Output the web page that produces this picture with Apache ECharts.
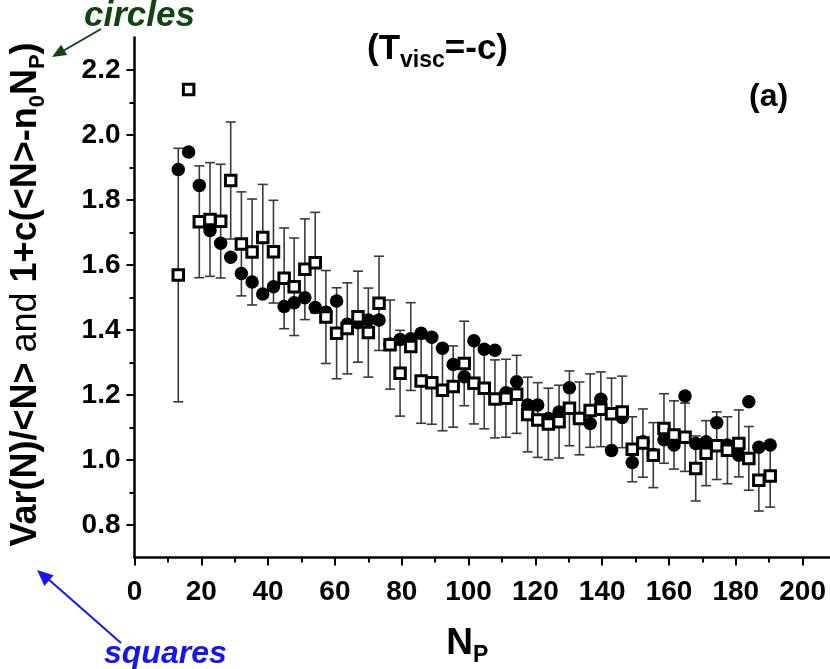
<!DOCTYPE html>
<html>
<head>
<meta charset="utf-8">
<script src="https://cdn.jsdelivr.net/npm/echarts@6/dist/echarts.min.js"></script>
<style>
html,body{margin:0;padding:0;background:#fff;}
#chart{width:830px;height:669px;}
</style>
</head>
<body>
<div id="chart"></div>
<script>
// N_P positions (shared by both data sets)
var np = [13.1, 16.2, 19.4, 22.6, 25.8, 28.8, 32.0, 35.2, 38.4, 41.6,
          44.8, 47.8, 51.0, 54.1, 57.3, 60.5, 63.7, 66.9, 70.0, 73.2,
          76.5, 79.5, 82.7, 85.8, 89.0, 92.2, 95.4, 98.7, 101.6, 104.7,
          107.9, 111.2, 114.4, 117.7, 120.7, 123.9, 127.1, 130.2, 133.2, 136.4,
          139.6, 142.8, 146.0, 149.0, 152.2, 155.3, 158.5, 161.5, 164.8, 168.0,
          171.1, 174.3, 177.5, 180.9, 183.9, 186.9, 190.3];
// circles: 1+c(<N>-n0 NP)
var circles = [1.894, 1.948, 1.845, 1.706, 1.667, 1.624, 1.574, 1.548, 1.511, 1.533,
               1.472, 1.484, 1.499, 1.469, 1.455, 1.489, 1.418, 1.422, 1.431, 1.431,
               1.357, 1.371, 1.373, 1.390, 1.378, 1.344, 1.294, 1.256, 1.367, 1.341,
               1.338, 1.207, 1.241, 1.169, 1.169, 1.128, 1.148, 1.222, 1.128, 1.112,
               1.187, 1.029, 1.131, 0.992, 1.056, 1.017, 1.062, 1.046, 1.197, 1.051,
               1.056, 1.115, 1.046, 1.015, 1.179, 1.039, 1.046];
// squares: Var(N)/<N>
var squares = [1.569, 2.140, 1.733, 1.740, 1.735, 1.860, 1.665, 1.640, 1.685, 1.641,
               1.559, 1.533, 1.587, 1.607, 1.440, 1.390, 1.405, 1.441, 1.392, 1.482,
               1.355, 1.267, 1.349, 1.243, 1.238, 1.215, 1.226, 1.297, 1.236, 1.221,
               1.188, 1.190, 1.202, 1.140, 1.123, 1.111, 1.118, 1.159, 1.128, 1.152,
               1.156, 1.142, 1.148, 1.033, 1.052, 1.015, 1.097, 1.077, 1.070, 0.974,
               1.021, 1.044, 1.030, 1.051, 1.005, 0.938, 0.951];
// error (half-width) of squares
var squareErr = [0.390, 0.000, 0.172, 0.175, 0.175, 0.180, 0.160, 0.163, 0.163, 0.158,
                 0.155, 0.150, 0.155, 0.155, 0.143, 0.140, 0.140, 0.140, 0.137, 0.145,
                 0.137, 0.132, 0.135, 0.130, 0.128, 0.125, 0.125, 0.130, 0.125, 0.125,
                 0.120, 0.120, 0.120, 0.115, 0.115, 0.110, 0.112, 0.115, 0.112, 0.113,
                 0.115, 0.110, 0.110, 0.100, 0.105, 0.100, 0.107, 0.105, 0.105, 0.100,
                 0.100, 0.104, 0.103, 0.103, 0.098, 0.095, 0.096];
var xMajor = [0, 20, 40, 60, 80, 100, 120, 140, 160, 180, 200];
var xMinor = [10, 30, 50, 70, 90, 110, 130, 150, 170, 190];
var yMajor = [0.8, 1.0, 1.2, 1.4, 1.6, 1.8, 2.0, 2.2];
var yMinor = [0.9, 1.1, 1.3, 1.5, 1.7, 1.9, 2.1];

var FONT = '"Liberation Sans", Arial, sans-serif';
var chart = echarts.init(document.getElementById('chart'), null, {renderer: 'canvas'});

var circleData = np.map(function (n, i) { return [n, circles[i]]; });
var squareData = np.map(function (n, i) { return [n, squares[i]]; });
var errData = [];
np.forEach(function (n, i) {
  if (squareErr[i] > 0) errData.push([n, squares[i] - squareErr[i], squares[i] + squareErr[i]]);
});

var axisLine = {show: true, onZero: false, lineStyle: {color: '#000', width: 2.5}};
var labelStyle = {color: '#000', fontFamily: FONT, fontWeight: 'bold', fontSize: 28};

var option = {
  animation: false,
  backgroundColor: '#fff',
  title: {
    text: '{a|(T}{s|visc}{a|=-c)}',
    left: 362, top: 22,
    textStyle: {
      rich: {
        a: {fontFamily: FONT, fontWeight: 'bold', fontSize: 35, color: '#000', lineHeight: 42},
        s: {fontFamily: FONT, fontWeight: 'bold', fontSize: 23, color: '#000', padding: [22, 0, 0, 0]}
      }
    }
  },
  grid: {left: 134.5, right: 0, top: 37.5, bottom: 111.5, containLabel: false, outerBoundsMode: 'none'},
  xAxis: [{
    type: 'value', min: 0, max: 208.2,
    axisLine: axisLine,
    axisTick: {show: true, inside: false, length: 8, lineStyle: {color: '#000', width: 2}, customValues: xMajor},
    axisLabel: Object.assign({margin: 21, customValues: xMajor}, labelStyle),
    splitLine: {show: false},
    name: '{n|N}{s|P}',
    nameLocation: 'middle', nameGap: 63,
    nameTextStyle: {
      padding: [0, 30, 0, 0],
      rich: {
        n: {fontFamily: FONT, fontWeight: 'bold', fontSize: 37, color: '#000', lineHeight: 40},
        s: {fontFamily: FONT, fontWeight: 'bold', fontSize: 23, color: '#000', padding: [24, 0, 0, 0]}
      }
    }
  }, {
    type: 'value', min: 0, max: 208.2, position: 'bottom',
    axisLine: {show: false},
    axisTick: {show: true, inside: false, length: 5, lineStyle: {color: '#000', width: 2}, customValues: xMinor},
    axisLabel: {show: false},
    splitLine: {show: false}
  }],
  yAxis: [{
    type: 'value', min: 0.7, max: 2.3,
    axisLine: axisLine,
    axisTick: {show: true, inside: false, length: 8, lineStyle: {color: '#000', width: 2}, customValues: yMajor},
    axisLabel: Object.assign({margin: 14, customValues: yMajor, formatter: function (v) { return v.toFixed(1); }}, labelStyle),
    splitLine: {show: false},
    name: '{b|Var(N)/<N>}{r| and }{b|1+c(<N>-n}{s|0}{b|N}{s|P}{b|)}',
    nameLocation: 'middle', nameRotate: 90, nameGap: 86,
    nameTextStyle: {
      padding: [0, 0, 0, 6],
      rich: {
        b: {fontFamily: FONT, fontWeight: 'bold', fontSize: 36, color: '#000', lineHeight: 40},
        r: {fontFamily: FONT, fontWeight: 'normal', fontSize: 36, color: '#000', lineHeight: 40},
        s: {fontFamily: FONT, fontWeight: 'bold', fontSize: 22, color: '#000', padding: [22, 0, 0, 0]}
      }
    }
  }, {
    type: 'value', min: 0.7, max: 2.3, position: 'left',
    axisLine: {show: false},
    axisTick: {show: true, inside: false, length: 5, lineStyle: {color: '#000', width: 2}, customValues: yMinor},
    axisLabel: {show: false},
    splitLine: {show: false}
  }],
  graphic: [
    {type: 'text', left: 749, top: 81, style: {text: '(a)', fontFamily: FONT, fontWeight: 'bold', fontSize: 32, fill: '#000'}},
    {type: 'text', left: 84, top: -1, style: {text: 'circles', fontFamily: FONT, fontWeight: 'bold', fontStyle: 'italic', fontSize: 35, fill: '#124412'}},
    {type: 'line', shape: {x1: 101, y1: 29, x2: 62, y2: 51.5}, style: {stroke: '#124412', lineWidth: 2}},
    {type: 'polygon', shape: {points: [[52, 57], [67.1, 55.1], [61.1, 44.7]]}, style: {fill: '#124412'}},
    {type: 'text', left: 104, top: 638, style: {text: 'squares', fontFamily: FONT, fontWeight: 'bold', fontStyle: 'italic', fontSize: 32, fill: '#1515ee'}},
    {type: 'line', shape: {x1: 121, y1: 643, x2: 47, y2: 578}, style: {stroke: '#1515ee', lineWidth: 2}},
    {type: 'polygon', shape: {points: [[37, 570], [53.6, 575.3], [44.4, 585.9]]}, style: {fill: '#1515ee'}}
  ],
  series: [{
    type: 'custom',
    xAxisIndex: 0, yAxisIndex: 0,
    data: errData,
    encode: {x: 0, y: [1, 2]},
    z: 2,
    renderItem: function (params, api) {
      var x = api.value(0);
      var pLo = api.coord([x, api.value(1)]);
      var pHi = api.coord([x, api.value(2)]);
      var w = 5;
      var st = {stroke: '#3a3a3a', lineWidth: 1.6};
      return {
        type: 'group',
        children: [
          {type: 'line', shape: {x1: pLo[0], y1: pLo[1], x2: pHi[0], y2: pHi[1]}, style: st},
          {type: 'line', shape: {x1: pLo[0] - w, y1: pLo[1], x2: pLo[0] + w, y2: pLo[1]}, style: st},
          {type: 'line', shape: {x1: pHi[0] - w, y1: pHi[1], x2: pHi[0] + w, y2: pHi[1]}, style: st}
        ]
      };
    }
  }, {
    type: 'scatter', name: 'circles',
    xAxisIndex: 0, yAxisIndex: 0,
    data: circleData,
    symbol: 'circle', symbolSize: 13.5,
    itemStyle: {color: '#000', opacity: 1},
    z: 3
  }, {
    type: 'scatter', name: 'squares',
    xAxisIndex: 0, yAxisIndex: 0,
    data: squareData,
    symbol: 'rect', symbolSize: 10.5,
    itemStyle: {color: '#fff', borderColor: '#000', borderWidth: 3, opacity: 1},
    z: 4
  }]
};
chart.setOption(option);
</script>
</body>
</html>
